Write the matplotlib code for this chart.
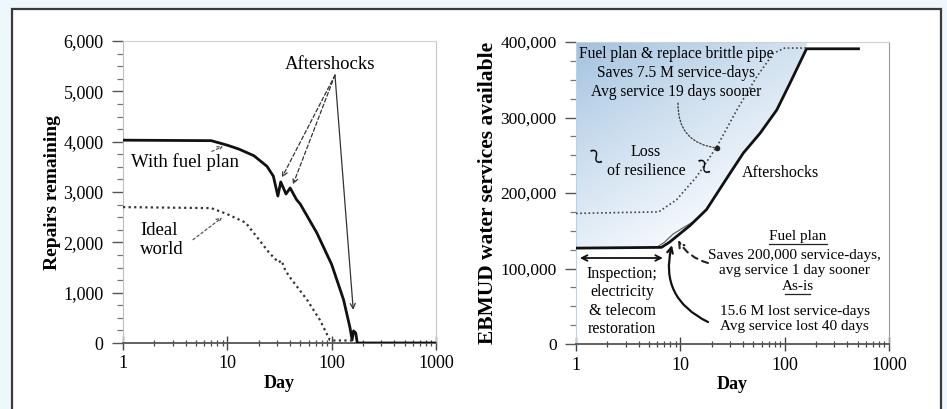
import numpy as np
import matplotlib
matplotlib.use("Agg")
import matplotlib.pyplot as plt
from matplotlib.patches import Rectangle
from matplotlib.ticker import FixedLocator, FuncFormatter, MultipleLocator, LogLocator, NullFormatter

plt.rcParams['font.family'] = ['Liberation Serif', 'DejaVu Serif']

# ---------------- data: left panel (repairs remaining) ----------------
fuel_days = [1, 7, 10, 13, 18, 24, 27.6, 30.5, 32.5, 36.5, 40, 46, 50, 72, 100, 130, 150, 157, 162, 170, 176, 1000]
fuel_repairs = [4030, 4020, 3930, 3850, 3720, 3510, 3315, 2920, 3200, 2960, 3080, 2850, 2760, 2190, 1560, 860, 300, 60, 240, 200, 0, 0]

ideal_days = [1, 7, 10, 15, 20, 25, 31, 33, 36, 40, 58, 77, 96, 103, 160]
ideal_repairs = [2700, 2680, 2560, 2390, 2060, 1800, 1600, 1640, 1440, 1300, 860, 460, 60, 50, 50]

# ---------------- data: right panel (water services available) ----------------
asis_days = [1, 6.6, 7.9, 9.9, 12.4, 17.8, 29.9, 40.2, 58, 84, 112, 162, 510]
asis_services = [127000, 128000, 135000, 146000, 157000, 178000, 226000, 253000, 279000, 310000, 345000, 391000, 391000]

pipe_days = [1, 6.2, 9.2, 14.4, 22.3, 34.8, 54, 78, 100, 166]
pipe_services = [173000, 175000, 191000, 222000, 261000, 310000, 354000, 385000, 392000, 392000]

fuelplan_days = [6.0, 7.0, 8.5, 10.5, 13]
fuelplan_services = [128500, 134500, 145500, 153500, 161000]

x_ticks = [1, 10, 100, 1000]
x_ticklabels = ["1", "10", "100", "1000"]
left_yticks = [0, 1000, 2000, 3000, 4000, 5000, 6000]
right_yticks = [0, 100000, 200000, 300000, 400000]

W, H = 947, 409
fig = plt.figure(figsize=(W / 100, H / 100), dpi=100)
fig.patch.set_facecolor('#eef7fb')
fig.patches.append(Rectangle((12 / W, -0.1), (941 - 12) / W, (H - 9) / H + 0.1,
                             transform=fig.transFigure, facecolor='white',
                             edgecolor='#3a3a3a', lw=1.6, zorder=-10))

axL = fig.add_axes([123 / W, (H - 343) / H, (436 - 123) / W, (343 - 41) / H])
axR = fig.add_axes([576 / W, (H - 344) / H, (889 - 576) / W, (344 - 42) / H])

def style_axis(ax, ymax, ymajor, yminor, yticks):
    ax.set_xscale('log')
    ax.set_xlim(1, 1000)
    ax.set_ylim(0, ymax)
    ax.set_facecolor('none')
    ax.xaxis.set_major_locator(FixedLocator(x_ticks))
    ax.xaxis.set_major_formatter(FuncFormatter(lambda v, p: x_ticklabels[x_ticks.index(int(round(v)))] if int(round(v)) in x_ticks else ""))
    ax.xaxis.set_minor_locator(LogLocator(base=10, subs=np.arange(2, 10)))
    ax.xaxis.set_minor_formatter(NullFormatter())
    ax.yaxis.set_major_locator(FixedLocator(yticks))
    ax.yaxis.set_major_formatter(FuncFormatter(lambda v, p: f"{int(v):,}"))
    ax.yaxis.set_minor_locator(MultipleLocator(yminor))
    ax.tick_params(axis='x', which='major', direction='inout', length=10, width=1.0, color='#444', labelsize=13, pad=4)
    ax.tick_params(axis='x', which='minor', direction='inout', length=5, width=0.9, color='#444')
    ax.tick_params(axis='y', which='major', direction='out', length=8, width=1.0, color='#555', labelsize=13, pad=6)
    ax.tick_params(axis='y', which='minor', direction='out', length=4, width=0.9, color='#777')
    ax.spines['top'].set_color('#d0d0d0')
    ax.spines['right'].set_color('#c8c8c8')
    ax.spines['left'].set_color('#c0c0c0')
    ax.spines['bottom'].set_color('#555555')
    ax.spines['bottom'].set_linewidth(1.3)
    ax.set_xlabel("Day", fontsize=13, fontweight='bold', labelpad=2)

# ---------------- left panel ----------------
style_axis(axL, 6000, 1000, 250, left_yticks)
axL.set_ylabel("Repairs remaining", fontsize=14, fontweight='bold', labelpad=2)
axL.plot(fuel_days, fuel_repairs, color='#111', lw=2.0, zorder=3)
axL.plot(ideal_days, ideal_repairs, color='#333', lw=1.6, ls=(0, (1, 1.5)), zorder=3)

axL.text(96.5, 5541, "Aftershocks", fontsize=13.5, ha='center', va='center')
for (hx, hy, dashed) in [(33.4, 3289, True), (42.6, 3150, True), (161, 658, False)]:
    axL.annotate("", xy=(hx, hy), xytext=(107.6, 5322),
                 arrowprops=dict(arrowstyle='->', color='#333', lw=0.9,
                                 ls=(0, (3, 2)) if dashed else '-', shrinkA=0, shrinkB=0,
                                 mutation_scale=9))
axL.text(3.93, 3588, "With fuel plan", fontsize=13.5, ha='center', va='center')
axL.annotate("", xy=(9.1, 3907), xytext=(7.1, 3807),
             arrowprops=dict(arrowstyle='->', color='#555', lw=0.9, ls=(0, (2, 2)),
                             shrinkA=0, shrinkB=0, mutation_scale=8))
axL.text(1.456, 2053, "Ideal\nworld", fontsize=13.5, ha='left', va='center', linespacing=1.15)
axL.annotate("", xy=(8.9, 2492), xytext=(4.69, 2053),
             arrowprops=dict(arrowstyle='->', color='#555', lw=0.9, ls=(0, (2, 2)),
                             shrinkA=0, shrinkB=0, mutation_scale=8))

# ---------------- right panel ----------------
style_axis(axR, 400000, 100000, 25000, right_yticks)
axR.spines['left'].set_color('#b9d2e6')
axR.spines['right'].set_color('#999999')
axR.set_ylabel("EBMUD water services available", fontsize=15.5, fontweight='bold', labelpad=2)
axR.tick_params(axis='y', which='major', labelsize=12.5)

# gradient fill above the as-is curve
fd = [d for d in asis_days if d <= 162]
fs = asis_services[:len(fd)]
poly = axR.fill_between(fd, fs, 400000, color='none', lw=0)
ny, nx = 200, 200
xa = np.linspace(0, 1, nx)[None, :]
ya = np.linspace(1, 0, ny)[:, None]
s = np.clip(0.75 * xa + 1.2 * (1 - ya), 0, 1) ** 0.8
dark = np.array([0.62, 0.75, 0.87])
light = np.array([0.95, 0.97, 0.99])
img = dark[None, None, :] * (1 - s[..., None]) + light[None, None, :] * s[..., None]
im = axR.imshow(img, extent=[0, 1, 0, 1], transform=axR.transAxes, aspect='auto', zorder=0.5)
im.set_clip_path(poly.get_paths()[0], transform=axR.transData)
axR.set_xlim(1, 1000)
axR.set_ylim(0, 400000)

axR.plot(asis_days, asis_services, color='#111', lw=2.0, zorder=3)
axR.plot(pipe_days, pipe_services, color='#444', lw=1.2, ls=(0, (1, 1.5)), zorder=3)
axR.plot(fuelplan_days, fuelplan_services, color='#666', lw=0.9, zorder=2.5)

LS = 1.25
FS = 11
axR.text(9.1, 359600, "Fuel plan & replace brittle pipe\nSaves 7.5 M service-days\nAvg service 19 days sooner",
         fontsize=11.2, ha='center', va='center', linespacing=LS, zorder=4)
axR.annotate("", xy=(22.5, 259600), xytext=(9.5, 319000),
             arrowprops=dict(arrowstyle='-', color='#444', lw=1.0, ls=(0, (1, 1.5)),
                             connectionstyle='arc3,rad=0.45', shrinkA=0, shrinkB=0))
axR.plot([22.5], [259600], 'o', color='#222', ms=3, zorder=4)
axR.text(4.7, 241700, "Loss\nof resilience", fontsize=11.5, ha='center', va='center', linespacing=LS)
axR.text(1.42, 247700, "~", fontsize=24, ha='center', va='center', rotation=-62)
axR.text(15.4, 234400, "~", fontsize=24, ha='center', va='center', rotation=-62)
axR.text(90.3, 226500, "Aftershocks", fontsize=11.5, ha='center', va='center')

axR.text(134, 142500, "Fuel plan", fontsize=FS, ha='center', va='center')
axR.text(125, 107300, "Saves 200,000 service-days,\navg service 1 day sooner", fontsize=FS,
         ha='center', va='center', linespacing=LS)
axR.text(134, 75500, "As-is", fontsize=FS, ha='center', va='center')
axR.text(125, 33100, "15.6 M lost service-days\nAvg service lost 40 days", fontsize=FS,
         ha='center', va='center', linespacing=LS)
# underlines
axR.plot([(769 - 576) / 313, (827 - 576) / 313], [(344 - 244) / 302] * 2, transform=axR.transAxes, color='#222', lw=0.9)
axR.plot([(785 - 576) / 313, (810 - 576) / 313], [(344 - 294) / 302] * 2, transform=axR.transAxes, color='#222', lw=0.9)

axR.annotate("", xy=(9.5, 137700), xytext=(18.4, 107300),
             arrowprops=dict(arrowstyle='->', color='#222', lw=1.5, ls=(0, (3, 2.5)),
                             connectionstyle='arc3,rad=-0.2', shrinkA=0, shrinkB=0, mutation_scale=10))
axR.annotate("", xy=(8.3, 131000), xytext=(18.4, 29100),
             arrowprops=dict(arrowstyle='->', color='#111', lw=1.6,
                             connectionstyle='arc3,rad=-0.4', shrinkA=0, shrinkB=0, mutation_scale=10))
axR.annotate("", xy=(6.8, 113900), xytext=(1.09, 113900),
             arrowprops=dict(arrowstyle='<->', color='#111', lw=1.3, shrinkA=0, shrinkB=0, mutation_scale=10))
axR.text(2.76, 56300, "Inspection;\nelectricity\n& telecom\nrestoration", fontsize=11.5,
         ha='center', va='center', linespacing=1.2)

fig.savefig("out.png", dpi=100, facecolor=fig.get_facecolor())
